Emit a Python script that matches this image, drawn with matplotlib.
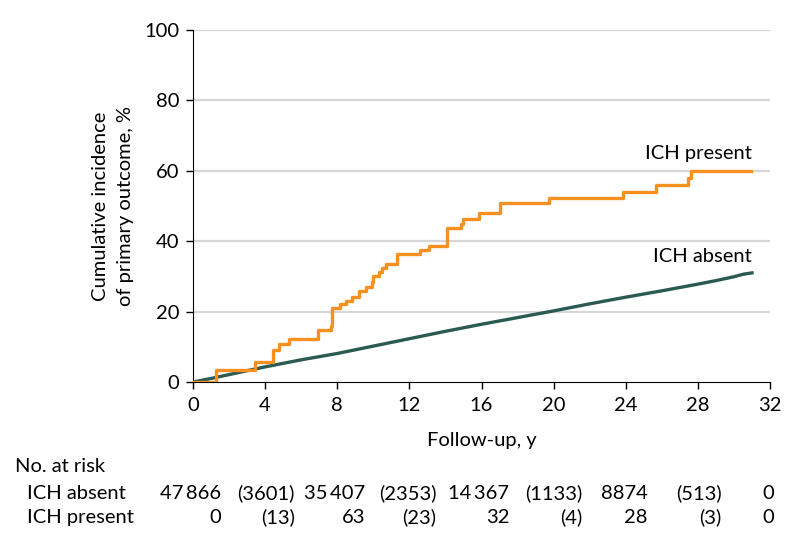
import matplotlib
matplotlib.use("Agg")
import matplotlib.pyplot as plt

plt.rcParams['font.family'] = ['Lato', 'DejaVu Sans']

# ICH present: step times (y) and cumulative incidence (%) after each step
present_t = [0, 1.27, 3.45, 4.45, 4.75, 5.3, 6.94, 7.64, 7.73, 8.18, 8.5, 8.84, 9.2, 9.6,
             9.9, 10.0, 10.3, 10.5, 10.7, 11.3, 12.6, 13.1, 14.1, 14.85, 14.95, 15.85,
             17.0, 19.77, 23.83, 25.67, 27.43, 27.6, 30.97]
present_y = [0, 3.5, 5.7, 9.1, 10.7, 12.1, 14.7, 16.0, 20.9, 22.1, 23.0, 24.2, 25.9, 26.9,
             28.3, 30.2, 31.3, 32.5, 33.4, 36.3, 37.5, 38.7, 43.7, 44.8, 46.3, 47.9,
             50.9, 52.4, 53.9, 56.0, 57.9, 60.0, 60.0]

# ICH absent
absent_t = [0, 1, 2, 3, 4, 5, 6, 7, 8, 10, 12, 14, 16, 18, 20, 22, 24, 26, 28, 29, 30, 30.5, 31]
absent_y = [0, 1.0, 2.1, 3.2, 4.3, 5.3, 6.3, 7.2, 8.1, 10.2, 12.3, 14.4, 16.4, 18.3, 20.2,
            22.2, 24.1, 25.9, 27.8, 28.8, 29.9, 30.6, 31.0]

risk_groups = ['ICH absent', 'ICH present']
risk_absent = ['47\u2009866', '(3601)', '35\u2009407', '(2353)', '14\u2009367', '(1133)', '8874', '(513)', '0']
risk_present = ['0', '(13)', '63', '(23)', '32', '(4)', '28', '(3)', '0']
# right edge of each table column, in years on the x axis
risk_cols = [1.55, 5.65, 9.55, 13.5, 17.55, 21.6, 25.2, 29.3, 32.25]

orange = '#F7901E'
green = '#2B5A52'
fs = 14.5

fig = plt.figure(figsize=(7.98, 5.47), dpi=100)
ax = fig.add_axes([193/798, 1-382/547, 577/798, 352/547])

for v in [20, 40, 60, 80, 100]:
    ax.axhline(v, color='#d6d6d6', lw=1.6, zorder=0)

ax.plot(absent_t, absent_y, color=green, lw=2.4, zorder=3)
ax.step(present_t, present_y, where='post', color=orange, lw=2.4, zorder=4)

ax.text(30.97, 65, 'ICH present', ha='right', va='center', fontsize=fs)
ax.text(30.97, 35.6, 'ICH absent', ha='right', va='center', fontsize=fs)

ax.set_xlim(0, 32)
ax.set_ylim(0, 100)
ax.set_xticks(range(0, 33, 4))
ax.set_yticks(range(0, 101, 20))
ax.tick_params(labelsize=fs, length=5, width=1, direction='out')
ax.tick_params(axis='x', pad=6)
ax.tick_params(axis='y', pad=5)
ax.spines['top'].set_visible(False)
ax.spines['right'].set_visible(False)
ax.set_xlabel('Follow-up, y', fontsize=fs, labelpad=13)
ax.set_ylabel('Cumulative incidence\nof primary outcome, %', fontsize=fs, labelpad=7,
              linespacing=1.6)

# risk table (positions are text baselines in pixels from the top)
tr = ax.get_xaxis_transform()
fig.text(15/798, 1-472/547, 'No. at risk', fontsize=fs, va='baseline')
rows = [risk_absent, risk_present]
row_y = [499, 523]
for name, vals, py in zip(risk_groups, rows, row_y):
    fig.text(27/798, 1-py/547, name, fontsize=fs, va='baseline')
    for x, s in zip(risk_cols, vals):
        ax.text(x, (382-py)/352, s, transform=tr, ha='right', va='baseline',
                fontsize=fs, clip_on=False)

fig.savefig('out.png', dpi=100)
